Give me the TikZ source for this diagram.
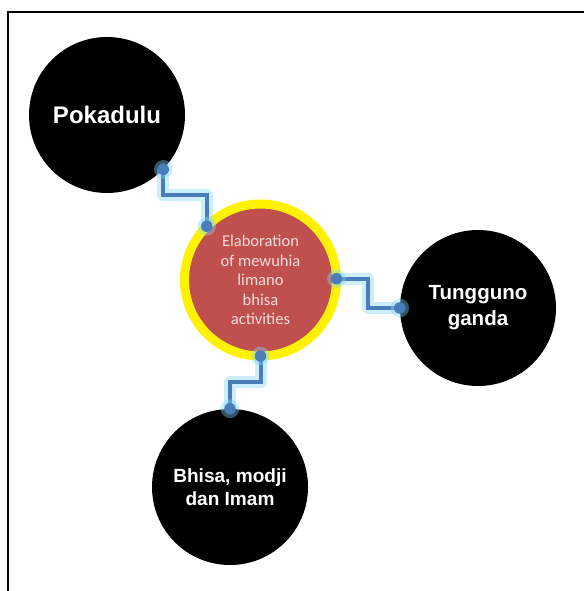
\documentclass[tikz,border=0pt]{standalone}
\usepackage{fontspec}
\setmainfont{Liberation Sans}
\newfontfamily\calibri{Carlito}
\usetikzlibrary{calc}
\definecolor{elabred}{RGB}{192,80,77}
\definecolor{elabtext}{RGB}{242,220,219}
\definecolor{linkblue}{RGB}{74,126,187}
\definecolor{glowblue}{RGB}{130,215,250}

\begin{document}
\begin{tikzpicture}[x=0.75pt, y=-0.75pt,
    topic/.style={circle, fill=black, minimum size=117pt, inner sep=0pt, text=white, align=center},
    glow/.style={glowblue, line width=9pt, opacity=0.4, line join=round},
    link/.style={linkblue, line width=3pt}]
  \useasboundingbox (0,0) rectangle (584,591);
  \draw [line width=1.5pt] (8,591) -- (8,12.5) -- (584,12.5);

  \node [topic, font=\bfseries\fontsize{18}{21}\selectfont] (pokadulu) at (107,115) {Pokadulu};
  \node [topic, font=\bfseries\fontsize{15.4}{19.5}\selectfont] (tungguno) at (478,308) {Tungguno\\ganda};
  \node [topic, font=\bfseries\fontsize{14.3}{16.8}\selectfont] (bhisa) at (230,487) {Bhisa, modji\\dan Imam};

  \node [circle, draw=yellow, line width=6.75pt, fill=elabred, minimum size=114pt, inner sep=0pt, outer sep=0pt,
    text=elabtext, align=center, font=\calibri\fontsize{12.4}{14.6}\selectfont] (elab) at (260.5,280)
    {Elaboration\\of mewuhia\\limano\\bhisa\\activities};

  % connectors
  \coordinate (m1) at ($(pokadulu.-44)!0.45!(elab.135)$);
  \coordinate (m2) at ($(elab.1)!0.5!(tungguno.180)$);
  \coordinate (m3) at ($(elab.-90)!0.5!(bhisa.90)$);

  \draw [glow] (pokadulu.-44) -- (pokadulu.-44 |- m1) -- (elab.135 |- m1) -- (elab.135);
  \draw [glow] (elab.1) -- (m2 |- elab.1) -- (m2 |- tungguno.180) -- (tungguno.180);
  \draw [glow] (elab.-90) -- (elab.-90 |- m3) -- (bhisa.90 |- m3) -- (bhisa.90);

  \draw [link] (pokadulu.-44) -- (pokadulu.-44 |- m1) -- (elab.135 |- m1) -- (elab.135);
  \draw [link] (elab.1) -- (m2 |- elab.1) -- (m2 |- tungguno.180) -- (tungguno.180);
  \draw [link] (elab.-90) -- (elab.-90 |- m3) -- (bhisa.90 |- m3) -- (bhisa.90);

  \foreach \p in {pokadulu.-44, elab.135, elab.1, tungguno.180, elab.-90, bhisa.90} {
    \fill [glowblue, opacity=0.4] (\p) circle (7pt);
    \fill [linkblue] (\p) circle (4.3pt);
  }
\end{tikzpicture}
\end{document}
